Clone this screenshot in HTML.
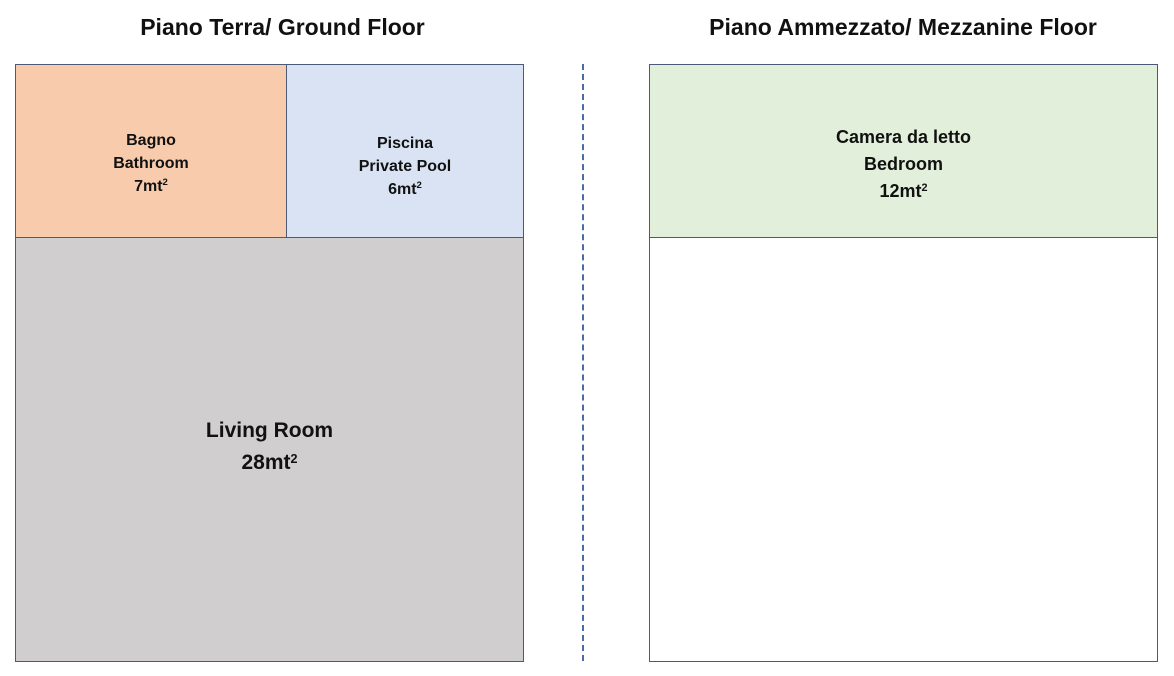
<!DOCTYPE html>
<html><head><style>
body{margin:0;width:1174px;height:676px;background:#fff;font-family:"Liberation Sans",sans-serif;position:relative;overflow:hidden;color:#111}
.t{position:absolute;font-weight:bold;font-size:23px;text-align:center;top:14px}
.b{position:absolute;box-sizing:border-box;border:1px solid #4a5a78;display:flex;flex-direction:column;justify-content:center;align-items:center;font-weight:bold;text-align:center}
sup{font-size:60%;vertical-align:6px;line-height:0}
</style></head><body>
<div class="t" style="left:15px;width:535px">Piano Terra/ Ground Floor</div>
<div class="t" style="left:649px;width:508px">Piano Ammezzato/ Mezzanine Floor</div>
<div class="b" style="left:15px;top:64px;width:272px;height:174px;background:#f8cbad;font-size:16px;line-height:23px;padding-top:24px">Bagno<br>Bathroom<br><span>7mt<sup>2</sup></span></div>
<div class="b" style="left:286px;top:64px;width:238px;height:174px;background:#dae3f3;font-size:16px;line-height:23px;padding-top:30px">Piscina<br>Private Pool<br><span>6mt<sup>2</sup></span></div>
<div class="b" style="left:15px;top:237px;width:509px;height:425px;background:#d0cece;font-size:21px;line-height:32px;padding-bottom:6px">Living Room<br><span>28mt<sup>2</sup></span></div>
<div class="b" style="left:649px;top:64px;width:509px;height:598px;background:#fff"></div>
<div class="b" style="left:649px;top:64px;width:509px;height:174px;background:#e2efda;font-size:18px;line-height:27px;padding-top:26px">Camera da letto<br>Bedroom<br><span>12mt<sup>2</sup></span></div>
<div style="position:absolute;left:582px;top:64px;height:597px;border-left:2px dashed #4a6aa8"></div>
</body></html>
